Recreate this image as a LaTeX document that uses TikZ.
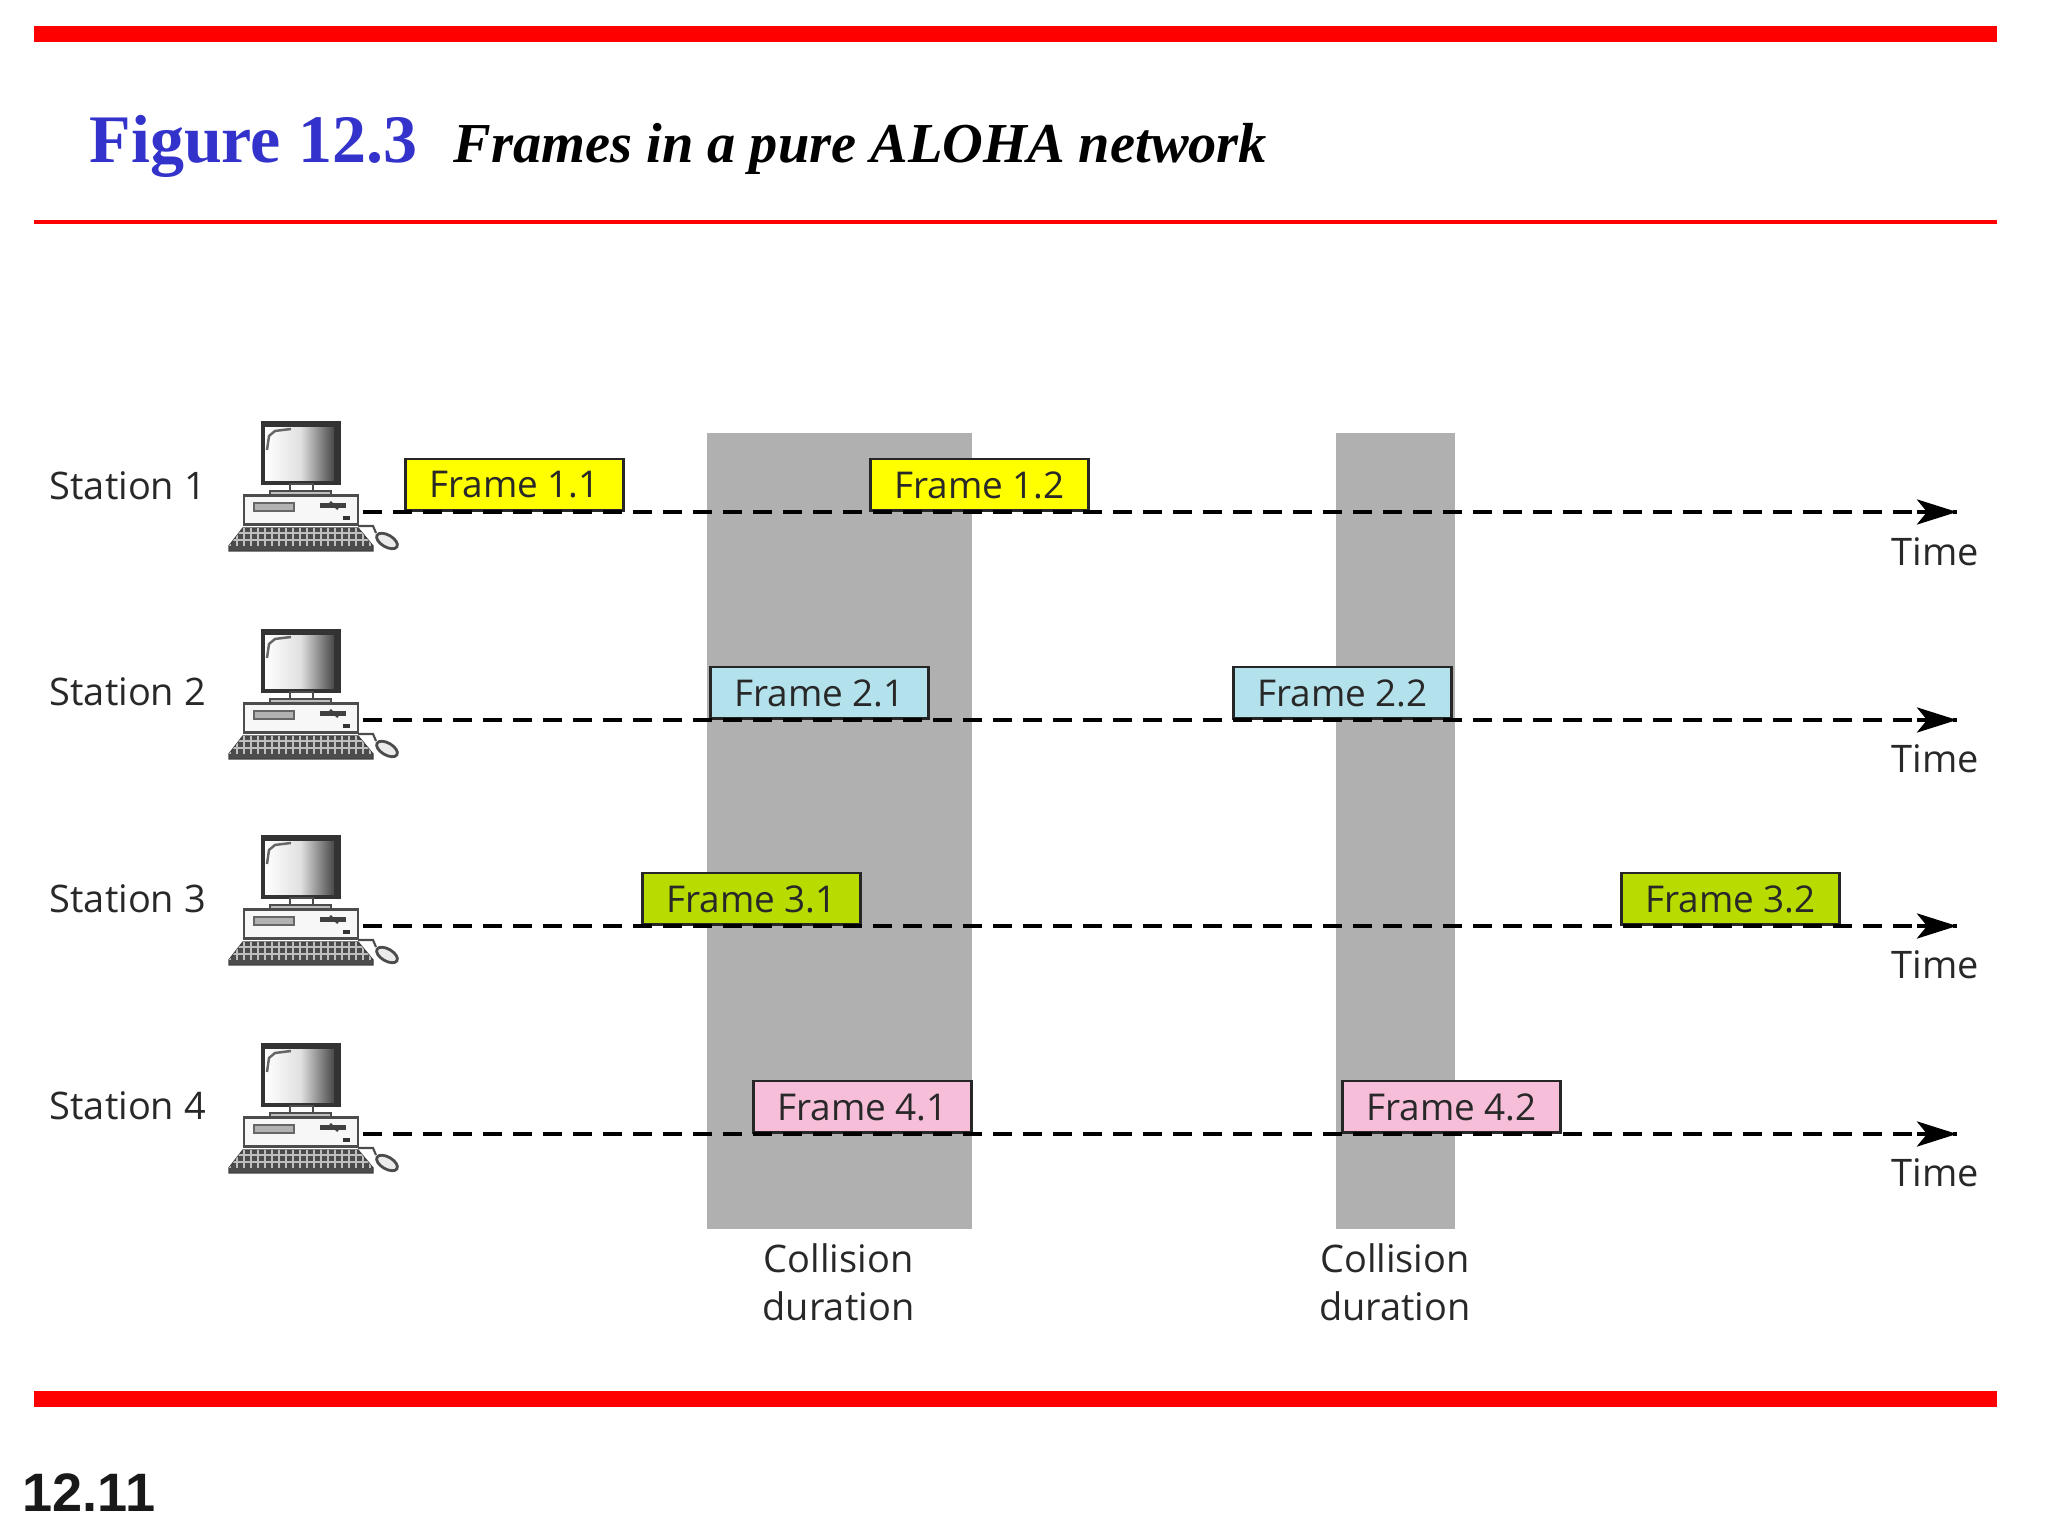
\documentclass[tikz,border=0pt]{standalone}
\usepackage{fontspec}
\setmainfont{Liberation Serif}
\newfontfamily\labelfont{Open Sans}
\newfontfamily\pagefont{Liberation Sans}
\usetikzlibrary{arrows.meta}
\definecolor{slidered}{RGB}{255,0,0}
\definecolor{titleblue}{RGB}{51,51,204}
\definecolor{collgray}{RGB}{176,176,176}
\definecolor{frameyellow}{RGB}{255,255,0}
\definecolor{frameblue}{RGB}{180,226,236}
\definecolor{framegreen}{RGB}{184,220,0}
\definecolor{framepink}{RGB}{246,190,216}
\definecolor{inkgray}{RGB}{40,40,40}
\tikzset{
  framebox/.style={draw=black!85, line width=0.8pt, anchor=south west, minimum width=2.18cm, minimum height=0.515cm,
    inner sep=0pt, text depth=0pt, text=inkgray, font=\labelfont\fontsize{10.5}{13}\selectfont},
  plainlabel/.style={inner sep=0pt, text=inkgray, font=\labelfont\fontsize{10.8}{13.7}\selectfont},
  timeline/.style={line width=1.3pt, dash pattern=on 0.19cm off 0.11cm},
  timetip/.style={line width=1.3pt, -{Stealth[length=0.4cm,width=0.25cm,inset=0.1cm]}},
  computer/.pic={
    \shade[left color=white, right color=black!75, middle color=white!88!black] (-0.98,0.31) rectangle (-0.27,0.86);
    \draw[line width=1pt, black!80] (-1.0,0.29) rectangle (-0.24,0.89);
    \fill[black!80] (-0.29,0.31) rectangle (-0.25,0.86);
    \fill[black!80] (-0.99,0.85) rectangle (-0.25,0.88);
    \draw[black!60, line width=0.7pt] (-0.96,0.62) -- (-0.94,0.76) -- (-0.88,0.81) -- (-0.72,0.83);
    \draw[black!70, fill=white] (-0.73,0.28) rectangle (-0.50,0.20);
    \draw[black!70, fill=black!25] (-0.93,0.21) rectangle (-0.32,0.16);
    \draw[black!70, fill=black!3, line width=0.6pt] (-1.19,0.165) rectangle (-0.05,-0.125);
    \draw[black!60, fill=black!30] (-1.09,0.09) rectangle (-0.69,0.01);
    \draw[line width=1.2pt, black!75] (-0.43,0.065) -- (-0.17,0.065);
    \draw[line width=0.7pt, black!75] (-0.33,0.1) -- (-0.25,0.03);
    \fill[black!80] (-0.2,-0.045) rectangle (-0.13,-0.08);
    \draw[black!75, fill=black!70] (-1.34,-0.34) -- (-1.2,-0.16) -- (-0.05,-0.16) -- (0.1,-0.34) -- (0.1,-0.39) -- (-1.34,-0.39) -- cycle;
    \begin{scope}
      \clip (-1.34,-0.34) -- (-1.2,-0.16) -- (-0.05,-0.16) -- (0.1,-0.34) -- cycle;
      \draw[white!75!black, line width=0.3pt, step=0.07] (-1.4,-0.4) grid (0.2,-0.1);
    \end{scope}
    \draw[black!70, line width=0.6pt] (-0.05,-0.14) -- (0.1,-0.14) -- (0.13,-0.21);
    \draw[black!70, fill=black!8, line width=0.8pt, rotate around={-30:(0.24,-0.29)}] (0.24,-0.29) ellipse (0.115 and 0.06);
  }
}
\begin{document}
\begin{tikzpicture}
    \useasboundingbox (0,0) rectangle (20.48,15.36);
    % slide frame
    \fill[slidered] (0.34,15.10) rectangle (19.97,14.94);
    \fill[slidered] (0.34,13.155) rectangle (19.97,13.115);
    \fill[slidered] (0.34,1.45) rectangle (19.97,1.29);
    \node[anchor=base west, inner sep=0pt, text=titleblue, font=\bfseries\fontsize{19.35}{23}\selectfont] (figno) at (0.89,13.73) {Figure 12.3};
    \node[anchor=base west, inner sep=0pt, font=\bfseries\itshape\fontsize{16.05}{19}\selectfont] (figtitle) at (4.53,13.73) {Frames in a pure ALOHA network};
    \node[anchor=base west, inner sep=0pt, text=black!90, font=\pagefont\bfseries\fontsize{15.4}{18}\selectfont] (pageno) at (0.22,0.24) {12.11};
    % collision bands
    \fill[collgray] (7.07,3.07) rectangle (9.72,11.03);
    \fill[collgray] (13.36,3.07) rectangle (14.55,11.03);
    \node[plainlabel, align=center] (coll1) at (8.385,2.54) {Collision\\duration};
    \node[plainlabel, align=center] (coll2) at (13.95,2.54) {Collision\\duration};
    % stations
    \node[plainlabel, anchor=base west] (st1) at (0.49,10.36) {Station 1};
    \node[plainlabel, anchor=base west] (st2) at (0.49,8.30) {Station 2};
    \node[plainlabel, anchor=base west] (st3) at (0.49,6.23) {Station 3};
    \node[plainlabel, anchor=base west] (st4) at (0.49,4.16) {Station 4};
    \coordinate (start1) at (3.63,10.24);
    \coordinate (start2) at (3.63,8.16);
    \coordinate (start3) at (3.63,6.10);
    \coordinate (start4) at (3.63,4.02);
    \coordinate (end1) at (19.57,10.24);
    \coordinate (end2) at (19.57,8.16);
    \coordinate (end3) at (19.57,6.10);
    \coordinate (end4) at (19.57,4.02);
    \pic at (start1) {computer};
    \pic at (start2) {computer};
    \pic at (start3) {computer};
    \pic at (start4) {computer};
    % frames
    \node[framebox, fill=frameyellow] (fr11) at (4.04,10.24) {Frame 1.1};
    \node[framebox, fill=frameyellow] (fr12) at (8.69,10.24) {Frame 1.2};
    \node[framebox, fill=frameblue] (fr21) at (7.09,8.16) {Frame 2.1};
    \node[framebox, fill=frameblue] (fr22) at (12.32,8.16) {Frame 2.2};
    \node[framebox, fill=framegreen] (fr31) at (6.41,6.10) {Frame 3.1};
    \node[framebox, fill=framegreen] (fr32) at (16.20,6.10) {Frame 3.2};
    \node[framebox, fill=framepink] (fr41) at (7.52,4.02) {Frame 4.1};
    \node[framebox, fill=framepink] (fr42) at (13.41,4.02) {Frame 4.2};
    % time axes
    \draw[timeline] (start1) -- (end1);
    \draw[timeline] (start2) -- (end2);
    \draw[timeline] (start3) -- (end3);
    \draw[timeline] (start4) -- (end4);
    \draw[timetip] ([xshift=-0.4cm]end1) -- (end1);
    \draw[timetip] ([xshift=-0.4cm]end2) -- (end2);
    \draw[timetip] ([xshift=-0.4cm]end3) -- (end3);
    \draw[timetip] ([xshift=-0.4cm]end4) -- (end4);
    \node[plainlabel] (time1) at (19.35,9.84) {Time};
    \node[plainlabel] (time2) at (19.35,7.77) {Time};
    \node[plainlabel] (time3) at (19.35,5.71) {Time};
    \node[plainlabel] (time4) at (19.35,3.63) {Time};
  \end{tikzpicture}
\end{document}
